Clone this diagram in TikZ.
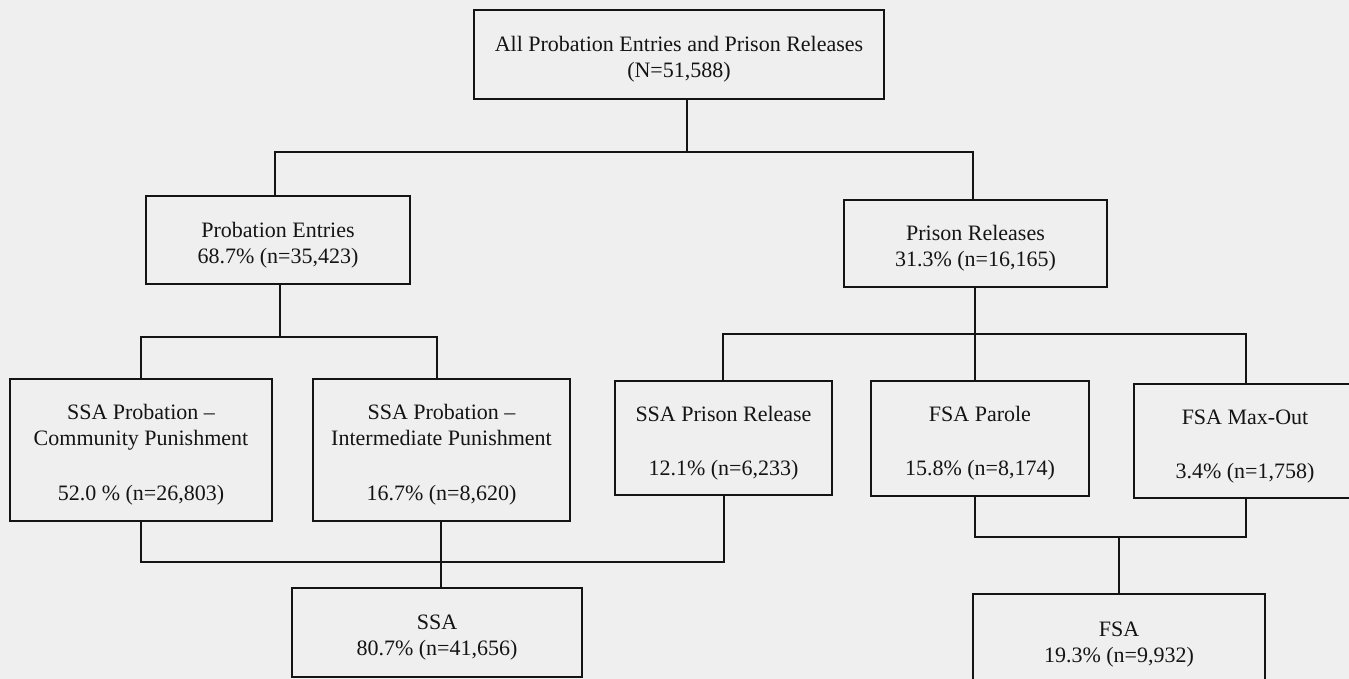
\documentclass[tikz,border=0pt]{standalone}
\usepackage{fontspec}
\setmainfont{Liberation Serif}
\definecolor{paper}{RGB}{239,239,239}
\definecolor{ink}{RGB}{20,20,20}
% a taller first line sets each text block a little low in its box
\newcommand\boxlead{\rule{0pt}{25pt}}
\begin{document}
\begin{tikzpicture}[x=1pt,y=-1pt,
  box/.style={draw=ink, text=ink, line width=1.9pt, inner sep=0pt, align=center,
              font=\fontsize{22}{26}\selectfont},
  link/.style={draw=ink, line width=1.5pt}]
\useasboundingbox[fill=paper] (0,0) rectangle (1349,679);

% boxes
\node[box, minimum width=410pt, minimum height=89pt] (all) at (679,54.5)
  {\boxlead All Probation Entries and Prison Releases\\(N=51,588)};
\node[box, minimum width=264pt, minimum height=88pt] (pe) at (278,240)
  {\boxlead Probation Entries\\68.7\% (n=35,423)};
\node[box, minimum width=263pt, minimum height=87pt] (pr) at (975.5,243.5)
  {\boxlead Prison Releases\\31.3\% (n=16,165)};
\node[box, minimum width=262pt, minimum height=142pt] (cp) at (141,450)
  {\boxlead SSA Probation –\\Community Punishment\\[29pt]52.0 \% (n=26,803)};
\node[box, minimum width=257pt, minimum height=142pt] (ip) at (441.5,450)
  {\boxlead SSA Probation –\\Intermediate Punishment\\[29pt]16.7\% (n=8,620)};
\node[box, minimum width=217pt, minimum height=114pt] (spr) at (723.5,438)
  {\boxlead SSA Prison Release\\[28pt]12.1\% (n=6,233)};
\node[box, minimum width=218pt, minimum height=115pt] (fp) at (980,438.5)
  {\boxlead FSA Parole\\[28pt]15.8\% (n=8,174)};
\node[box, minimum width=222pt, minimum height=114pt] (mo) at (1245,441)
  {\boxlead FSA Max-Out\\[28pt]3.4\% (n=1,758)};
\node[box, minimum width=290pt, minimum height=89pt] (ssa) at (437,632.5)
  {\boxlead SSA\\80.7\% (n=41,656)};
\node[box, minimum width=292pt, minimum height=90pt] (fsa) at (1119,639)
  {\boxlead FSA\\19.3\% (n=9,932)};

% junction points
\coordinate (b1)  at (687,152);
\coordinate (b1l) at (275,152);
\coordinate (b1r) at (973,152);
\coordinate (b2)  at (280,337);
\coordinate (b2l) at (141,337);
\coordinate (b2r) at (437,337);
\coordinate (b3)  at (975,334);
\coordinate (b3l) at (723,334);
\coordinate (b3r) at (1246,334);
\coordinate (c1l) at (141,562);
\coordinate (c1m) at (441,562);
\coordinate (c1r) at (724,562);
\coordinate (c2l) at (975,537);
\coordinate (c2m) at (1119,537);
\coordinate (c2r) at (1246,537);

% splits
\draw[link] (all.south -| b1) -- (b1);
\draw[link] (pe.north -| b1l) |- (b1r) -- (pr.north -| b1r);
\draw[link] (pe.south -| b2) -- (b2);
\draw[link] (cp.north -| b2l) |- (b2r) -- (ip.north -| b2r);
\draw[link] (pr.south -| b3) -- (b3);
\draw[link] (spr.north -| b3l) |- (b3r) -- (mo.north -| b3r);
\draw[link] (b3) -- (fp.north -| b3);

% merges
\draw[link] (cp.south -| c1l) |- (c1r) -- (spr.south -| c1r);
\draw[link] (ip.south -| c1m) -- (ssa.north -| c1m);
\draw[link] (fp.south -| c2l) |- (c2r) -- (mo.south -| c2r);
\draw[link] (c2m) -- (fsa.north -| c2m);
\end{tikzpicture}
\end{document}
